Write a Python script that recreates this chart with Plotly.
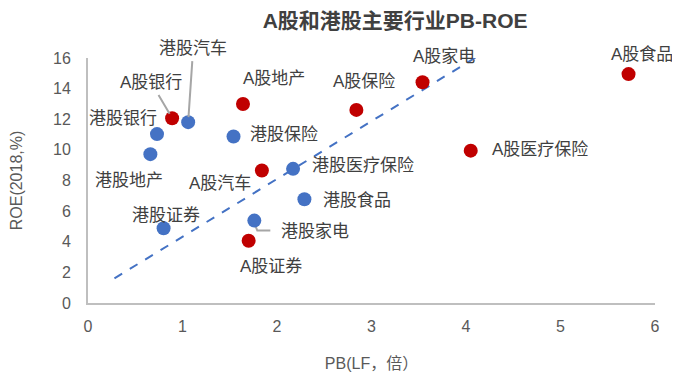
import plotly.graph_objects as go

# A-share industries
a_names = ["A股银行", "A股地产", "A股保险", "A股家电", "A股食品", "A股医疗保险", "A股汽车", "A股证券"]
a_pb = [0.89, 1.64, 2.84, 3.54, 5.72, 4.05, 1.84, 1.70]
a_roe = [12.07, 13.0, 12.61, 14.42, 14.95, 9.95, 8.65, 4.07]

# HK-share industries
h_names = ["港股汽车", "港股银行", "港股地产", "港股保险", "港股医疗保险", "港股食品", "港股家电", "港股证券"]
h_pb = [1.06, 0.73, 0.66, 1.54, 2.17, 2.29, 1.76, 0.80]
h_roe = [11.81, 11.03, 9.72, 10.87, 8.76, 6.78, 5.38, 4.88]

# trend line
trend_x = [0.28, 4.34]
trend_y = [1.61, 16.93]

x_ticks = [0, 1, 2, 3, 4, 5, 6]
y_ticks = [0, 2, 4, 6, 8, 10, 12, 14, 16]

RED = "#C00000"
BLUE = "#4472C4"
TXT = "#404040"
FONT = "Liberation Sans, Arial, Noto Sans CJK SC, sans-serif"

fig = go.Figure()
fig.add_trace(go.Scatter(x=trend_x, y=trend_y, mode="lines",
                         line=dict(color="#4472C4", width=2, dash="dash"),
                         hoverinfo="skip", showlegend=False, cliponaxis=False))
fig.add_trace(go.Scatter(x=a_pb, y=a_roe, mode="markers", text=a_names,
                         marker=dict(color=RED, size=14, line=dict(width=0)),
                         showlegend=False, cliponaxis=False))
fig.add_trace(go.Scatter(x=h_pb, y=h_roe, mode="markers", text=h_names,
                         marker=dict(color=BLUE, size=14, line=dict(width=0)),
                         showlegend=False, cliponaxis=False))

# label placement: name -> (xanchor, xshift, yshift)
label_pos = {
    "A股地产": ("center", 31, 25),
    "A股保险": ("center", 8, 28),
    "A股家电": ("center", 21, 26),
    "A股食品": ("center", 13, 20),
    "A股医疗保险": ("left", 19, 1),
    "A股汽车": ("center", -42, -13),
    "A股证券": ("center", 22, -26),
    "港股银行": ("right", 2, 16),
    "港股地产": ("center", -21, -26),
    "港股保险": ("left", 14, 2),
    "港股医疗保险": ("left", 17, 3),
    "港股食品": ("left", 17, -1),
    "港股家电": ("left", 25, -11),
    "港股证券": ("center", 2, 13),
}
# labels with leader lines: name -> (ax, ay)
arrow_pos = {
    "A股银行": (-21, -36),
    "港股汽车": (5, -74),
}

LBL = dict(size=17, color=TXT, family=FONT)
annotations = []
for names, xs, ys in ((a_names, a_pb, a_roe), (h_names, h_pb, h_roe)):
    for n, xv, yv in zip(names, xs, ys):
        if n in arrow_pos:
            ax, ay = arrow_pos[n]
            annotations.append(dict(x=xv, y=yv, xref="x", yref="y", text=n,
                                    showarrow=True, arrowhead=0, arrowwidth=2,
                                    arrowcolor="#A6A6A6", ax=ax, ay=ay, standoff=5,
                                    startstandoff=2, font=LBL))
        else:
            xa, xs_, ys_ = label_pos[n]
            annotations.append(dict(x=xv, y=yv, xref="x", yref="y", text=n,
                                    showarrow=False, xanchor=xa, yanchor="middle",
                                    xshift=xs_, yshift=ys_, font=LBL))

# elbow leader line for 港股家电
hk_idx = h_names.index("港股家电")
shapes = [dict(type="path", xref="x", yref="y", xsizemode="pixel", ysizemode="pixel",
               xanchor=h_pb[hk_idx], yanchor=h_roe[hk_idx],
               path="M 1,-5 L 3,-10 L 16,-10",
               line=dict(color="#A6A6A6", width=2), layer="below")]

TICKF = dict(size=16, color="#595959", family=FONT)
# page body has an 8px margin, so the figure is sized to fill the rest of the window
fig.update_layout(
    width=672, height=364,
    margin=dict(l=80, r=25, t=50, b=69, autoexpand=False),
    paper_bgcolor="white", plot_bgcolor="white",
    title=dict(text="<b>A股和港股主要行业PB-ROE</b>", x=0.576, xanchor="center",
               y=0.964, yanchor="middle", automargin=False,
               font=dict(size=21, color="#404040", family=FONT)),
    xaxis=dict(range=[0, 6], tickvals=x_ticks, showgrid=False, zeroline=False,
               showline=True, linecolor="#BFBFBF", linewidth=2, ticks="",
               automargin=False, tickfont=TICKF, ticklabelstandoff=8,
               title=dict(text="PB(LF，倍）", font=dict(size=16, color="#595959", family=FONT),
                          standoff=31)),
    yaxis=dict(range=[0, 16], tickvals=y_ticks, showgrid=False, zeroline=False,
               showline=True, linecolor="#BFBFBF", linewidth=2, ticks="",
               automargin=False, tickfont=TICKF, ticklabelstandoff=12,
               title=dict(text="ROE(2018,%)", font=dict(size=16, color="#595959", family=FONT),
                          standoff=29)),
    annotations=annotations,
    shapes=shapes,
)

fig.write_html("out.html")
